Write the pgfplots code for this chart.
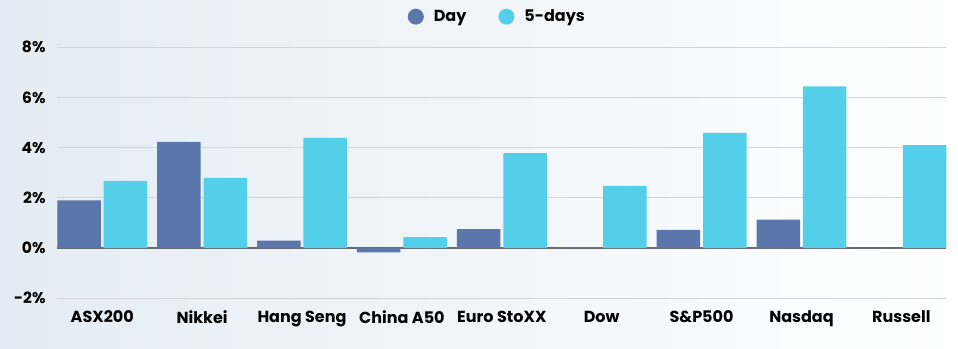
\documentclass[border=0pt]{standalone}
\usepackage{fontspec}
\setmainfont{Poppins}
\usepackage{pgfplots}
\pgfplotsset{compat=1.18}
\definecolor{dayc}{HTML}{5B76AB}
\definecolor{fivec}{HTML}{53CFEA}
\definecolor{gridc}{HTML}{D2D4D8}
\definecolor{zeroc}{HTML}{6A6A6A}
\definecolor{bgl}{HTML}{E3ECF4}
\begin{document}
\begin{tikzpicture}
\useasboundingbox (-57.3pt,-49.7pt) rectangle (900.7pt,298.3pt);
\shade[left color=bgl, middle color=white, right color=white] (-57.3pt,-49.7pt) rectangle (900.7pt,298.3pt);
\begin{axis}[
  scale only axis, width=889pt, height=251pt,
  xmin=-0.45, xmax=8.45, ymin=-2, ymax=8,
  ybar, bar width=43.5pt,
  xtick={0,...,8},
  xticklabels={ASX200,Nikkei,Hang Seng,China A50,Euro StoXX,Dow,S\&P500,Nasdaq,Russell},
  ytick={-2,0,2,4,6,8},
  yticklabel={\pgfmathprintnumber{\tick}\%},
  /pgf/number format/assume math mode=true,
  ymajorgrids, grid style={gridc, line width=1pt},
  extra y ticks={0}, extra y tick labels={},
  extra y tick style={grid style={zeroc, line width=1.2pt}},
  axis line style={draw=none}, major tick length=0pt,
  tick label style={font=\fontsize{15.5}{16}\selectfont\bfseries},
  xticklabel style={inner sep=0pt, anchor=north, yshift=-12.4pt, font=\fontsize{16}{16}\selectfont\bfseries},
  yticklabel style={inner sep=0pt, anchor=east, xshift=-11.6pt},
  legend columns=2,
  legend style={at={(axis description cs:0.495,1.122)}, anchor=center, draw=none, fill=none,
    font=\fontsize{16}{16}\selectfont\bfseries,
    /tikz/every odd column/.append style={column sep=8pt},
    /tikz/every even column/.append style={column sep=30pt}},
]
\addplot[fill=dayc, draw=none, bar shift=-23.2pt,
  legend image code/.code={\fill[dayc] (0pt,0pt) circle (8pt);}]
  coordinates {(0,1.90) (1,4.23) (2,0.30) (3,-0.17) (4,0.76) (5,0.04) (6,0.73) (7,1.13) (8,0.0)};
\addplot[fill=fivec, draw=none, bar shift=23.2pt,
  legend image code/.code={\fill[fivec] (0pt,0pt) circle (8pt);}]
  coordinates {(0,2.68) (1,2.80) (2,4.39) (3,0.44) (4,3.78) (5,2.48) (6,4.59) (7,6.44) (8,4.10)};
\legend{Day,5-days}
\end{axis}
\end{tikzpicture}
\end{document}
